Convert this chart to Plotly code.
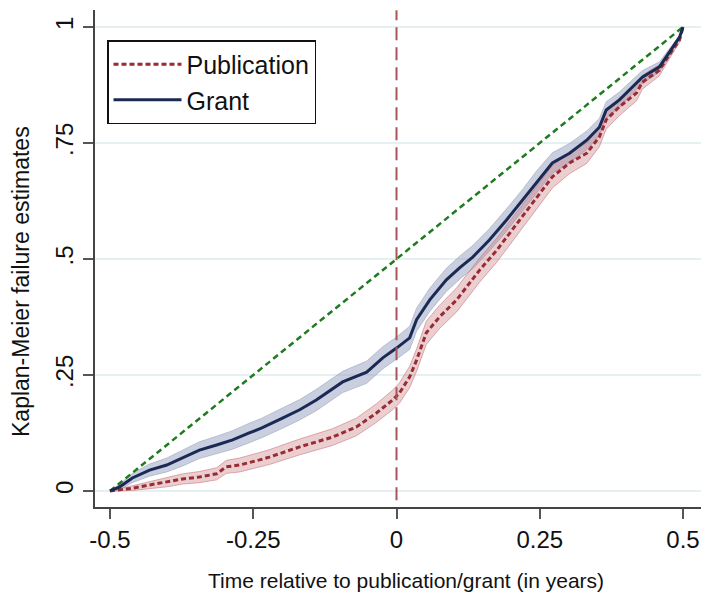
import plotly.graph_objects as go

# ---- data ----
grant_x = [-0.5, -0.483, -0.461, -0.431, -0.401, -0.373, -0.344, -0.314, -0.286, -0.257,
           -0.235, -0.199, -0.169, -0.140, -0.094, -0.052, -0.024, 0.0, 0.023, 0.035,
           0.058, 0.087, 0.110, 0.133, 0.162, 0.192, 0.220, 0.244, 0.272, 0.302,
           0.332, 0.354, 0.366, 0.389, 0.419, 0.429, 0.459, 0.476, 0.494, 0.5]
grant_y = [0, 0.009, 0.028, 0.045, 0.056, 0.071, 0.088, 0.099, 0.110, 0.125,
           0.136, 0.157, 0.175, 0.196, 0.235, 0.256, 0.287, 0.308, 0.330, 0.369,
           0.412, 0.455, 0.481, 0.504, 0.541, 0.584, 0.627, 0.666, 0.707, 0.728,
           0.756, 0.784, 0.821, 0.843, 0.879, 0.892, 0.914, 0.944, 0.978, 1.0]
grant_ci = [0, 0.006, 0.010, 0.013, 0.015, 0.017, 0.018, 0.019, 0.020, 0.021,
            0.021, 0.022, 0.022, 0.023, 0.023, 0.024, 0.024, 0.024, 0.025, 0.025,
            0.025, 0.025, 0.025, 0.025, 0.024, 0.024, 0.023, 0.023, 0.022, 0.021,
            0.020, 0.019, 0.018, 0.017, 0.015, 0.014, 0.011, 0.008, 0.004, 0]

pub_x = [-0.5, -0.461, -0.431, -0.401, -0.373, -0.344, -0.314, -0.297, -0.274, -0.239,
         -0.222, -0.169, -0.112, -0.070, -0.035, -0.007, 0.005, 0.023, 0.035, 0.052,
         0.075, 0.105, 0.122, 0.145, 0.175, 0.202, 0.232, 0.272, 0.302, 0.332,
         0.354, 0.366, 0.389, 0.419, 0.429, 0.459, 0.476, 0.494, 0.5]
pub_y = [0, 0.006, 0.013, 0.019, 0.026, 0.030, 0.037, 0.052, 0.056, 0.067,
         0.073, 0.095, 0.116, 0.138, 0.168, 0.196, 0.211, 0.246, 0.282, 0.341,
         0.375, 0.412, 0.440, 0.476, 0.519, 0.563, 0.612, 0.677, 0.707, 0.728,
         0.763, 0.800, 0.828, 0.858, 0.881, 0.907, 0.940, 0.972, 1.0]
pub_ci = [0, 0.005, 0.008, 0.010, 0.011, 0.012, 0.013, 0.014, 0.015, 0.016,
          0.016, 0.017, 0.018, 0.019, 0.020, 0.021, 0.022, 0.023, 0.024, 0.025,
          0.025, 0.026, 0.026, 0.026, 0.026, 0.025, 0.025, 0.024, 0.023, 0.022,
          0.021, 0.020, 0.019, 0.017, 0.015, 0.012, 0.009, 0.005, 0]

diag_x = [-0.5, 0.5]
diag_y = [0, 1]

x_ticks = [-0.5, -0.25, 0, 0.25, 0.5]
x_tick_labels = ["-0.5", "-0.25", "0", "0.25", "0.5"]
y_ticks = [0, 0.25, 0.5, 0.75, 1]
y_tick_labels = ["0", ".25", ".5", ".75", "1"]

FONT = "Liberation Sans, Arial, sans-serif"
NAVY = "#1b2a55"
RED = "#982b33"

fig = go.Figure()

def band(xs, ys, hw, fill, edge):
    lo = [y - h for y, h in zip(ys, hw)]
    hi = [y + h for y, h in zip(ys, hw)]
    fig.add_trace(go.Scatter(x=xs, y=lo, mode="lines", line=dict(color=edge, width=1),
                             showlegend=False, hoverinfo="skip"))
    fig.add_trace(go.Scatter(x=xs, y=hi, mode="lines", line=dict(color=edge, width=1),
                             fill="tonexty", fillcolor=fill, showlegend=False, hoverinfo="skip"))

band(grant_x, grant_y, grant_ci, "rgba(150,160,192,0.50)", "rgba(150,160,192,0.55)")
band(pub_x, pub_y, pub_ci, "rgba(200,120,125,0.36)", "rgba(200,120,125,0.6)")

fig.add_trace(go.Scatter(x=diag_x, y=diag_y, mode="lines",
                         line=dict(color="#1e7b1e", width=2.5, dash="6px,4px"),
                         showlegend=False, hoverinfo="skip"))

fig.add_trace(go.Scatter(x=pub_x, y=pub_y, mode="lines", name="Publication",
                         line=dict(color=RED, width=3, dash="5px,3px")))
fig.add_trace(go.Scatter(x=grant_x, y=grant_y, mode="lines", name="Grant",
                         line=dict(color=NAVY, width=3)))

fig.add_shape(type="line", xref="x", yref="y", x0=0, x1=0, y0=-0.02, y1=1.036,
              line=dict(color="#a9545b", width=2, dash="13px,7px"), layer="above")

W, H = 703, 598
L, R, T, B = 95, 2, 10, 91

fig.update_layout(
    width=W, height=H,
    margin=dict(l=L, r=R, t=T, b=B, pad=0),
    paper_bgcolor="white", plot_bgcolor="white",
    font=dict(family=FONT, color="#111111"),
    showlegend=True,
    legend=dict(
        x=(107 - L) / (W - L - R), y=(H - B - 40) / (H - T - B),
        xanchor="left", yanchor="top",
        bgcolor="white", bordercolor="#111111", borderwidth=1.5,
        font=dict(family=FONT, size=25, color="#111111"),
        itemwidth=68, traceorder="normal",
    ),
    xaxis=dict(
        range=[-0.5262, 0.5314], tickvals=x_ticks, ticktext=x_tick_labels,
        showgrid=False, zeroline=False,
        showline=True, linecolor="#444444", linewidth=2,
        ticks="outside", ticklen=10, tickwidth=2, tickcolor="#555555",
        tickfont=dict(family=FONT, size=24, color="#111111"),
    ),
    yaxis=dict(
        range=[-0.0345, 1.0366], tickvals=y_ticks, ticktext=y_tick_labels,
        showgrid=True, gridcolor="#e6eff1", gridwidth=2, zeroline=False,
        showline=True, linecolor="#444444", linewidth=2,
        ticks="outside", ticklen=10, tickwidth=2, tickcolor="#555555",
        tickangle=-90,
        tickfont=dict(family=FONT, size=24, color="#111111"),
    ),
    annotations=[
        dict(text="Time relative to publication/grant (in years)", xref="paper", yref="paper",
             x=(406 - L) / (W - L - R), y=-(580 - (H - B)) / (H - T - B),
             xanchor="center", yanchor="middle", showarrow=False,
             font=dict(family=FONT, size=21, color="#111111")),
        dict(text="Kaplan-Meier failure estimates", xref="paper", yref="paper",
             x=-(L - 21) / (W - L - R), y=(H - B - 282) / (H - T - B),
             xanchor="center", yanchor="middle", showarrow=False, textangle=-90,
             font=dict(family=FONT, size=23, color="#111111")),
    ],
)

fig.write_html("out.html")
